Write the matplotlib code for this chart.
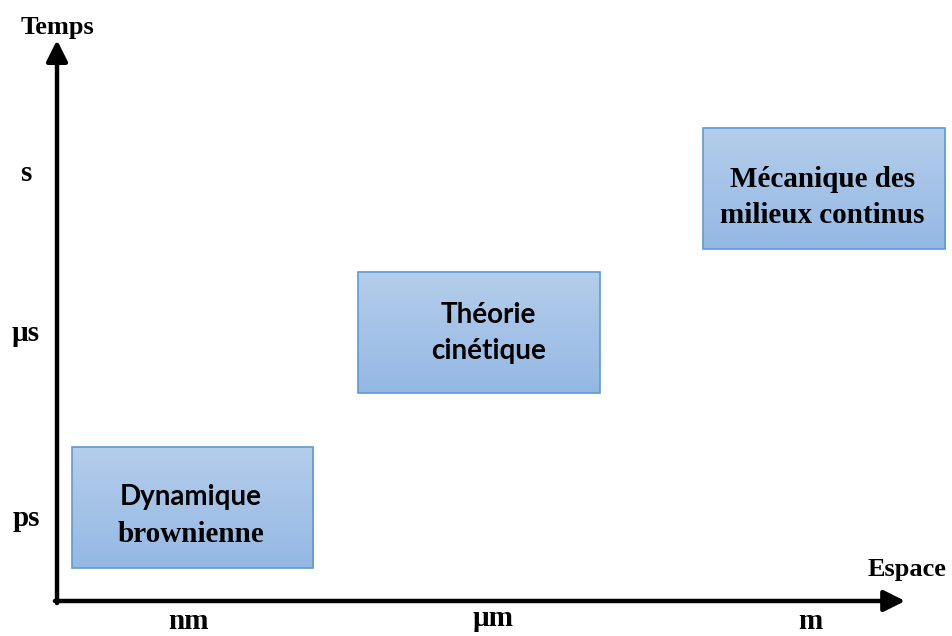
import numpy as np
import matplotlib.pyplot as plt
from matplotlib.patches import Rectangle
from matplotlib.colors import LinearSegmentedColormap

# Axis categories (order of magnitude in space and time)
x_labels = ['nm', 'µm', 'm']
x_label_pos = [-0.037, 0.982, 2.044]
y_labels = ['ps', 'µs', 's']
y_label_pos = [-0.046, 1.026, 1.954]

# Domains: (x from, x to) and (y from, y to) in the same category units
domains = ['Dynamique brownienne', 'Théorie cinétique', 'Mécanique des milieux continus']
domain_x = [(-0.43, 0.38), (0.53, 1.34), (1.685, 2.496)]
domain_y = [(-0.29, 0.41), (0.725, 1.426), (1.56, 2.26)]
domain_lines = [['Dynamique', 'brownienne'], ['Théorie', 'cinétique'], ['Mécanique des', 'milieux continus']]
line_fonts = [['sans', 'serif'], ['sans', 'sans'], ['serif', 'serif']]

SERIF = 'Liberation Serif'
SANS = 'Lato'

fig = plt.figure(figsize=(9.52, 6.36), dpi=100)
ax = fig.add_axes([0, 0, 1, 1])
ax.set_axis_off()

cmap = LinearSegmentedColormap.from_list('box', ['#94b8e4', '#b4cdea'])
grad = np.linspace(0, 1, 256).reshape(-1, 1)

for i, ((x0, x1), (y0, y1), lines, fonts) in enumerate(zip(domain_x, domain_y, domain_lines, line_fonts)):
    ax.imshow(grad, cmap=cmap, extent=(x0, x1, y0, y1), origin='lower',
              aspect='auto', zorder=1)
    ax.add_patch(Rectangle((x0, y0), x1 - x0, y1 - y0, fill=False,
                           edgecolor='#5b9bd5', lw=1.2, zorder=2))
    xc = (x0 + x1) / 2 + (0.03 if i == 1 else -0.005)
    yc = (y0 + y1) / 2
    for k, (txt, f) in enumerate(zip(lines, fonts)):
        ty = yc + 0.09 - k * 0.21
        if f == 'serif':
            ax.text(xc, ty - 0.035, txt, ha='center', va='center', fontsize=21,
                    fontweight='bold', family=SERIF, zorder=3)
        else:
            dy = -0.03 if i == 0 else 0.01
            ax.text(xc, ty + dy, txt, ha='center', va='center', fontsize=20,
                    fontweight='bold', family=SANS, zorder=3)

# axes with arrows
ox, oy = -0.479, -0.481
ax.annotate('', xy=(2.362, oy), xytext=(ox - 0.007, oy),
            arrowprops=dict(arrowstyle='-|>', lw=3.2, color='black', mutation_scale=32,
                            shrinkA=0, shrinkB=0))
ax.annotate('', xy=(ox, 2.771), xytext=(ox, oy - 0.012),
            arrowprops=dict(arrowstyle='-|>', lw=3.2, color='black', mutation_scale=32,
                            shrinkA=0, shrinkB=0))

ax.text(ox, 2.846, 'Temps', ha='center', va='center', fontsize=19,
        fontweight='bold', family=SERIF)
ax.text(2.369, -0.296, 'Espace', ha='center', va='center', fontsize=19,
        fontweight='bold', family=SERIF)

for lab, p in zip(x_labels, x_label_pos):
    yb = -0.625 if lab == 'µm' else -0.645
    ax.text(p, yb, lab, ha='center', va='baseline', fontsize=21,
            fontweight='bold', family=SERIF)
for lab, p in zip(y_labels, y_label_pos):
    ax.text(-0.583, p, lab, ha='center', va='baseline', fontsize=21,
            fontweight='bold', family=SERIF)

ax.set_xlim(-0.67, 2.519)
ax.set_ylim(-0.684, 3.003)

fig.savefig('out.png', dpi=100)
